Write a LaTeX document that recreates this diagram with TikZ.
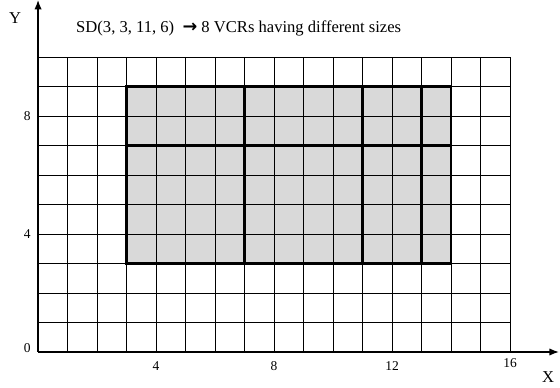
\documentclass[tikz,border=0pt]{standalone}
\usepackage{fontspec}
\setmainfont{Liberation Serif}
\newfontfamily\arrowfont{DejaVu Sans}
\usetikzlibrary{arrows.meta}
\tikzset{
  ticklbl/.style={font=\fontsize{13}{15}\selectfont, inner sep=0pt},
  axislbl/.style={font=\fontsize{16}{18}\selectfont, inner sep=0pt},
  partline/.style={line width=2.4pt},
  axisline/.style={line width=1.2pt, -{Latex[length=9pt,width=7pt]}}
}
\begin{document}
\begin{tikzpicture}
    \useasboundingbox (-1.29,-1.19) rectangle (17.69,11.93);
    % shaded region and grid
    \fill[gray!30] (3,3) rectangle (14,9);
    \draw[line width=0.7pt] (0,0) grid (16,10);
    % partition into VCRs
    \draw[partline] (3,3) rectangle (14,9);
    \draw[partline] (3,7) -- (14,7);
    \foreach \x in {7,11,13} \draw[partline] (\x,3) -- (\x,9);
    % axes
    \coordinate (o) at (0,0);
    \coordinate (xend) at (17.65,0);
    \coordinate (yend) at (0,11.93);
    \draw[axisline] (o) -- (xend);
    \draw[axisline] (o) -- (yend);
    \node[axislbl] (xlbl) at (17.29,-0.86) {X};
    \node[axislbl] (ylbl) at (-0.78,11.32) {Y};
    % tick labels
    \node[ticklbl] (y0) at (-0.37,0.13) {0};
    \node[ticklbl] (y4) at (-0.37,4) {4};
    \node[ticklbl] (y8) at (-0.37,8) {8};
    \node[ticklbl] (x4) at (4,-0.47) {4};
    \node[ticklbl] (x8) at (8,-0.47) {8};
    \node[ticklbl] (x12) at (12,-0.47) {12};
    \node[ticklbl] (x16) at (16,-0.36) {16};
    % title
    \node[axislbl] (title) at (6.8,10.98) {SD(3, 3, 11, 6)\ \ {\arrowfont\bfseries\fontsize{17}{18}\selectfont →} 8 VCRs having different sizes};
\end{tikzpicture}
\end{document}
